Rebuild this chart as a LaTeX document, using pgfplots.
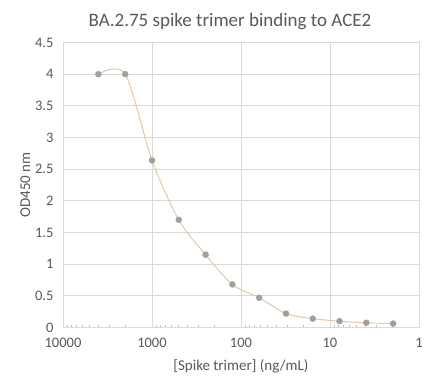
\documentclass[border=0pt]{standalone}
\usepackage{pgfplots}
\pgfplotsset{compat=1.18}
\usepackage{fontspec}
\setmainfont{Carlito}
\definecolor{txt}{HTML}{595959}
\definecolor{gridc}{HTML}{D9D9D9}
\definecolor{axc}{HTML}{BFBFBF}
\definecolor{curve}{HTML}{EAC7A4}
\definecolor{mark}{HTML}{A0A0A0}
\begin{document}
\begin{tikzpicture}
\begin{axis}[
  scale only axis,
  width=356pt, height=285pt,
  xmode=log, x dir=reverse,
  xmin=1, xmax=10000,
  ymin=0, ymax=4.5,
  xtick={1,10,100,1000,10000},
  xticklabels={1,10,100,1000,10000},
  minor xtick={2,3,4,5,6,7,8,9,20,30,40,50,60,70,80,90,200,300,400,500,600,700,800,900,2000,3000,4000,5000,6000,7000,8000,9000},
  ytick={0,0.5,...,4.5},
  yticklabels={0,0.5,1,1.5,2,2.5,3,3.5,4,4.5},
  xmajorgrids, ymajorgrids,
  grid style={draw=gridc, line width=0.8pt},
  axis line style={draw=gridc, line width=0.8pt},
  tick align=inside,
  xtick pos=lower, ytick pos=left,
  major tick length=0pt,
  minor tick length=3pt,
  minor tick style={draw=axc, line width=0.6pt},
  ticklabel style={font=\fontsize{14.5}{16}\selectfont, text=txt},
  /pgf/number format/assume math mode=true,
  xticklabel style={yshift=-7pt},
  yticklabel style={xshift=-6pt},
  xlabel={[Spike trimer] (ng/mL)},
  ylabel={OD450 nm},
  label style={font=\fontsize{15}{16}\selectfont, text=txt},
  xlabel style={yshift=-5pt},
  ylabel style={yshift=-2pt},
  title={BA.2.75 spike trimer binding to ACE2},
  title style={font=\fontsize{19}{21}\selectfont, text=txt, yshift=3pt, xshift=-11pt},
]
\addplot[curve, line width=1pt, smooth, tension=0.5] coordinates {
(4000,4.00) (2000,4.00) (1000,2.64) (500,1.70) (250,1.15) (125,0.68)
(62.5,0.47) (31.25,0.22) (15.625,0.14) (7.8125,0.10) (3.90625,0.075) (1.953125,0.062)
};
\addplot[only marks, mark=*, mark size=3pt, mark options={draw=mark, fill=mark}] coordinates {
(4000,4.00) (2000,4.00) (1000,2.64) (500,1.70) (250,1.15) (125,0.68)
(62.5,0.47) (31.25,0.22) (15.625,0.14) (7.8125,0.10) (3.90625,0.075) (1.953125,0.062)
};
\end{axis}
\pgfresetboundingbox
\path ([shift={(-63pt,-58.5pt)}]current axis.south west) rectangle ([shift={(15pt,42.5pt)}]current axis.north east);
\end{tikzpicture}
\end{document}
